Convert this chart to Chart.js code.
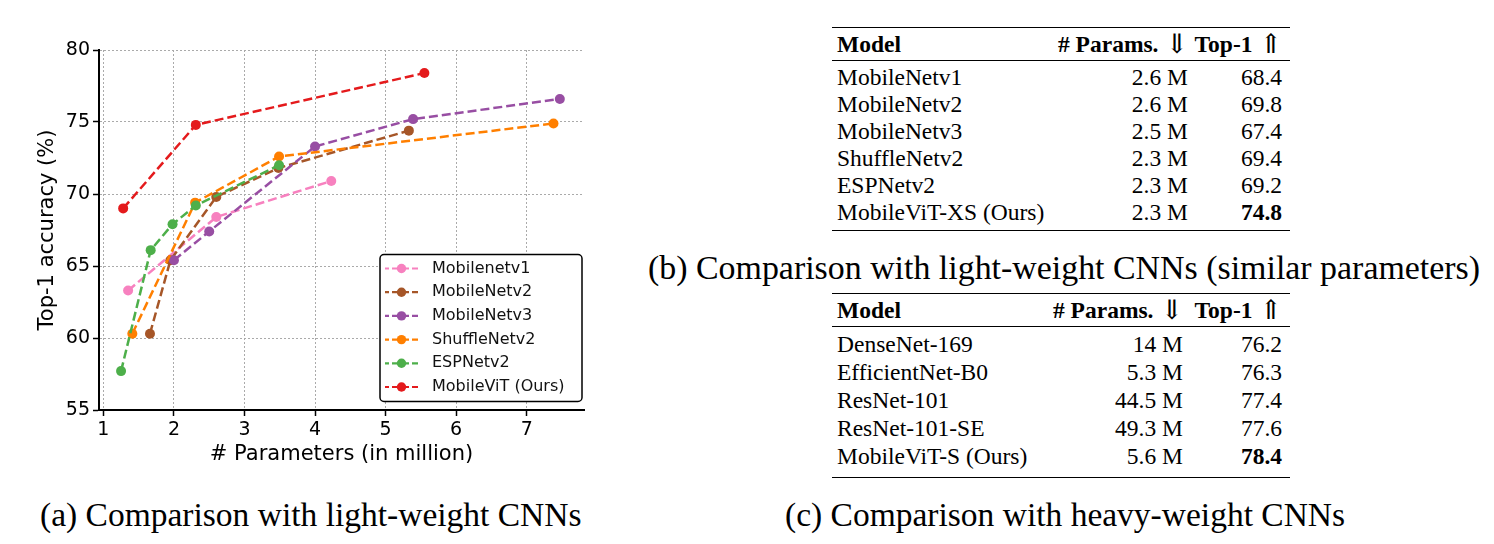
<!DOCTYPE html>
<html>
<head>
<meta charset="utf-8">
<script src="https://cdn.jsdelivr.net/npm/chart.js@4.4.0/dist/chart.umd.min.js"></script>
<style>
    body{margin:0;background:#fff;width:1494px;height:544px;overflow:hidden;position:relative;
         font-family:"Liberation Serif","Times New Roman",serif;color:#000;}
    #plot{position:absolute;left:0;top:0;width:600px;height:470px;}
    .cap{position:absolute;font-size:33.5px;line-height:40px;white-space:nowrap;}
    table.res{position:absolute;left:832px;width:458px;border-collapse:collapse;table-layout:fixed;
              font-size:23.5px;border-top:1.6px solid #000;border-bottom:1.2px solid #000;}
    table.res th,table.res td{padding:0;white-space:nowrap;line-height:27px;height:27px;}
    table.res th{border-bottom:1px solid #000;height:32px;}
    table.res .l{text-align:left;padding-left:5px;}
    table.res .r{text-align:right;}
    table.res .c3{padding-right:8px;}
    table.res tbody tr:first-child td{padding-top:3px;}
    .arr{font-family:"DejaVu Serif";font-weight:normal;font-size:27px;line-height:0;vertical-align:-1px;color:#000;margin-left:1px;}
</style>
</head>
<body>
<div id="plot"><canvas id="myChart"></canvas></div>
<div class="cap" style="left:40px;top:495px;">(a) Comparison with light-weight CNNs</div>

<table class="res" id="tabB" style="top:27px;"></table>
<div class="cap" style="left:648px;top:248px;font-size:33.9px;">(b) Comparison with light-weight CNNs (similar parameters)</div>

<table class="res" id="tabC" style="top:293px;"></table>
<div class="cap" style="left:785px;top:495px;">(c) Comparison with heavy-weight CNNs</div>

<script>
    // chart (a): params (million) vs top-1 accuracy
    var seriesNames = ['Mobilenetv1','MobileNetv2','MobileNetv3','ShuffleNetv2','ESPNetv2','MobileViT (Ours)'];
    var seriesColors = ['#f781bf','#a65628','#984ea3','#ff7f00','#4daf4a','#e41a1c'];

    var mnv1Params = [1.35, 2.6, 4.23];
    var mnv1Top1   = [63.3, 68.4, 70.9];
    var mnv2Params = [1.66, 1.95, 2.6, 3.48, 5.33];
    var mnv2Top1   = [60.3, 65.4, 69.8, 71.8, 74.4];
    var mnv3Params = [2.0, 2.5, 4.0, 5.39, 7.47];
    var mnv3Top1   = [65.4, 67.4, 73.3, 75.2, 76.6];
    var shuffleParams = [1.41, 2.3, 3.49, 7.38];
    var shuffleTop1   = [60.3, 69.4, 72.6, 74.9];
    var espParams = [1.25, 1.67, 1.98, 2.31, 3.49];
    var espTop1   = [57.7, 66.1, 67.9, 69.2, 72.0];
    var vitParams = [1.28, 2.31, 5.55];
    var vitTop1   = [69.0, 74.8, 78.4];

    var xTicks = [1, 2, 3, 4, 5, 6, 7];
    var yTicks = [55, 60, 65, 70, 75, 80];

    // tables (b) and (c)
    var lightModels = ['MobileNetv1','MobileNetv2','MobileNetv3','ShuffleNetv2','ESPNetv2','MobileViT-XS (Ours)'];
    var lightParams = ['2.6 M','2.6 M','2.5 M','2.3 M','2.3 M','2.3 M'];
    var lightTop1   = ['68.4','69.8','67.4','69.4','69.2','74.8'];
    var heavyModels = ['DenseNet-169','EfficientNet-B0','ResNet-101','ResNet-101-SE','MobileViT-S (Ours)'];
    var heavyParams = ['14 M','5.3 M','44.5 M','49.3 M','5.6 M'];
    var heavyTop1   = ['76.2','76.3','77.4','77.6','78.4'];

    function fillTable(id, models, params, top1, c2pad, rowH, bottomPad) {
        var t = document.getElementById(id);
        var html = "<colgroup><col style='width:218px'><col style='width:140px'><col style='width:100px'></colgroup>";
        html += "<thead><tr><th class='l'>Model</th><th class='r' style='padding-right:" + c2pad + "px'># Params. <span class='arr'>&#8659;</span></th>" +
                "<th class='r c3'>Top-1 <span class='arr'>&#8657;</span></th></tr></thead><tbody>";
        for (var i = 0; i < models.length; i++) {
            var last = (i == models.length - 1);
            var v = last ? "<b>" + top1[i] + "</b>" : top1[i];
            var st = "height:" + rowH + "px;line-height:" + rowH + "px;" + (last ? "padding-bottom:" + bottomPad + "px;" : "");
            html += "<tr><td class='l' style='" + st + "'>" + models[i] + "</td>" +
                    "<td class='r' style='" + st + "padding-right:" + c2pad + "px'>" + params[i] + "</td>" +
                    "<td class='r c3' style='" + st + "'>" + v + "</td></tr>";
        }
        t.innerHTML = html + "</tbody>";
    }
    fillTable('tabB', lightModels, lightParams, lightTop1, 2, 27, 4);
    fillTable('tabC', heavyModels, heavyParams, heavyTop1, 7, 28, 7);

    function series(i, xs, ys) {
        return {
            label: seriesNames[i],
            data: xs.map(function(x, k){ return {x: x, y: ys[k]}; }),
            borderColor: seriesColors[i],
            backgroundColor: seriesColors[i],
            borderWidth: 2.5,
            borderDash: [9, 4],
            pointRadius: 5,
            pointHoverRadius: 5,
            pointBorderWidth: 0,
            tension: 0,
            order: 5 - i
        };
    }

    // legend sits inside the plot, bottom right (like matplotlib)
    var insideLegend = {
        id: 'insideLegend',
        afterDraw: function(chart) {
            var ctx = chart.ctx, area = chart.chartArea;
            var w = 202, h = 147;
            var x0 = area.right - 2 - w, y0 = area.bottom - 8.5 - h;
            ctx.save();
            ctx.fillStyle = '#fff';
            ctx.strokeStyle = '#000';
            ctx.lineWidth = 1.5;
            ctx.beginPath();
            ctx.roundRect(x0, y0, w, h, 4);
            ctx.fill();
            ctx.stroke();
            chart.data.datasets.forEach(function(ds, i) {
                var cy = y0 + 14 + i * 23.7;
                ctx.strokeStyle = ds.borderColor;
                ctx.lineWidth = 2.2;
                ctx.setLineDash([7, 3]);
                ctx.lineDashOffset = 3;
                ctx.beginPath();
                ctx.moveTo(x0 + 5, cy);
                ctx.lineTo(x0 + 38, cy);
                ctx.stroke();
                ctx.setLineDash([]);
                ctx.fillStyle = ds.borderColor;
                ctx.beginPath();
                ctx.arc(x0 + 21.5, cy, 4.7, 0, Math.PI * 2);
                ctx.fill();
                ctx.fillStyle = '#111';
                ctx.font = '16px "DejaVu Sans"';
                ctx.textBaseline = 'middle';
                ctx.fillText(ds.label, x0 + 52, cy);
            });
            ctx.restore();
        }
    };

    var tickFont = {family: 'DejaVu Sans', size: 19};
    var titleFont = {family: 'DejaVu Sans', size: 21};

    var ctx = document.getElementById('myChart').getContext('2d');
    var chart = new Chart(ctx, {
        type: 'line',
        data: {
            datasets: [
                series(0, mnv1Params, mnv1Top1),
                series(1, mnv2Params, mnv2Top1),
                series(2, mnv3Params, mnv3Top1),
                series(3, shuffleParams, shuffleTop1),
                series(4, espParams, espTop1),
                series(5, vitParams, vitTop1)
            ]
        },
        plugins: [insideLegend],
        options: {
            responsive: true,
            maintainAspectRatio: false,
            animation: false,
            layout: {padding: {top: 50, right: 16, left: 0, bottom: 0}},
            plugins: {legend: {display: false}, tooltip: {enabled: false}},
            scales: {
                x: {
                    type: 'linear',
                    min: 0.9375,
                    max: 7.8125,
                    afterBuildTicks: function(s){ s.ticks = xTicks.map(function(v){ return {value: v}; }); },
                    afterFit: function(s){ s.height = 60; },
                    ticks: {font: tickFont, color: '#000', padding: 3},
                    grid: {color: '#aaaaaa', lineWidth: 1, tickColor: '#000', tickLength: 6, tickWidth: 1.5},
                    border: {display: true, color: '#000', width: 2, dash: [2, 2]},
                    title: {display: true, text: '# Parameters (in million)', font: titleFont, color: '#000', padding: {top: 0, bottom: 3}}
                },
                y: {
                    min: 55,
                    max: 80,
                    afterBuildTicks: function(s){ s.ticks = yTicks.map(function(v){ return {value: v}; }); },
                    afterFit: function(s){ s.width = 99; },
                    ticks: {font: tickFont, color: '#000', padding: 3},
                    grid: {color: '#aaaaaa', lineWidth: 1, tickColor: '#000', tickLength: 6, tickWidth: 1.5},
                    border: {display: true, color: '#000', width: 2, dash: [2, 2]},
                    title: {display: true, text: 'Top-1 accuracy (%)', font: titleFont, color: '#000', padding: {top: 35, bottom: 0}}
                }
            }
        }
    });
</script>
</body>
</html>
